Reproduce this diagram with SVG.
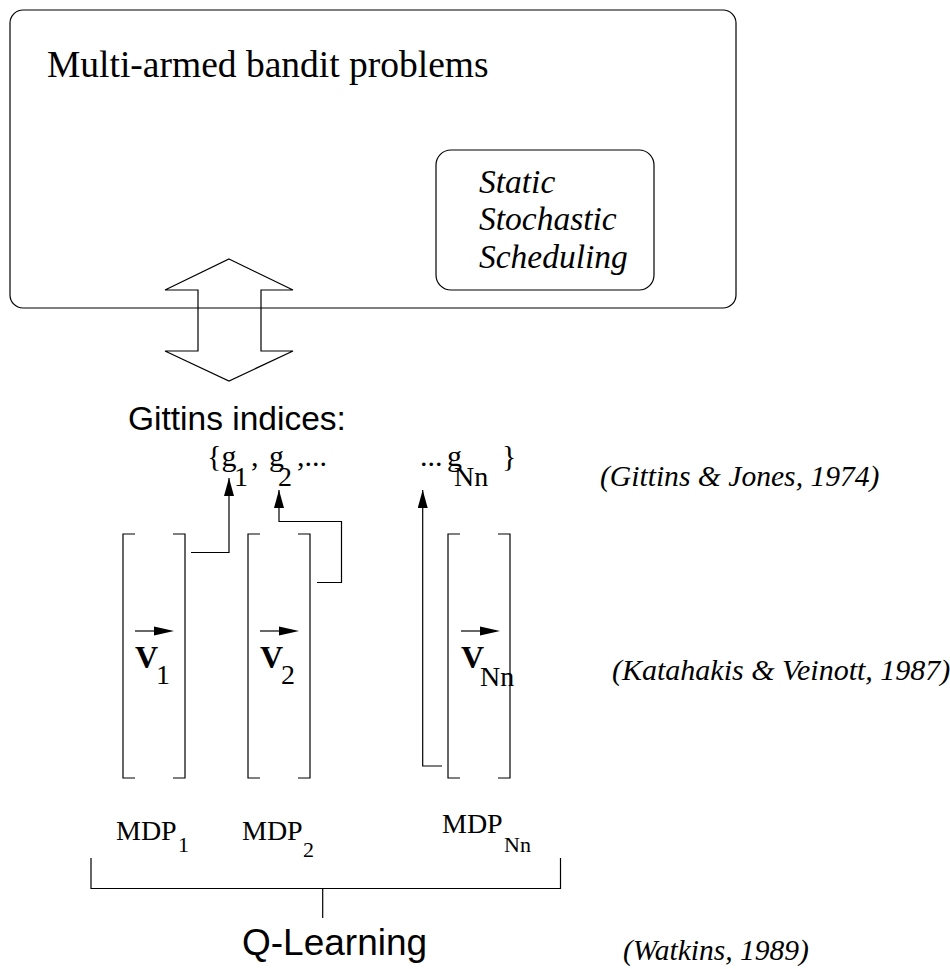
<svg xmlns="http://www.w3.org/2000/svg" width="950" height="969" viewBox="0 0 950 969">
<defs>
<style>
.ln{fill:none;stroke:#000;stroke-width:1.2}
.tr{font-family:"Liberation Serif","Times New Roman",serif;fill:#000}
.it{font-family:"Liberation Serif","Times New Roman",serif;font-style:italic;fill:#000}
.sf{font-family:"Liberation Sans",Arial,sans-serif;fill:#000}
.vb{font-family:"Liberation Serif","Times New Roman",serif;font-weight:bold;font-size:32px;fill:#000}
</style>
<marker id="ah" markerWidth="18" markerHeight="10" refX="18" refY="5" orient="auto" markerUnits="userSpaceOnUse">
<path d="M0,0 L18,5 L0,10 Z" fill="#000"/>
</marker>
</defs>
<rect width="950" height="969" fill="#fff"/>

<g id="bandit">
<rect class="ln" x="10" y="10" width="726" height="298" rx="13" ry="13"/>
<text class="tr" x="47" y="77" font-size="37.5">Multi-armed bandit problems</text>
</g>

<g id="scheduling">
<rect class="ln" x="436" y="150" width="218" height="140" rx="15" ry="15"/>
<text class="it" x="479" y="193" font-size="33.5">Static</text>
<text class="it" x="479" y="230" font-size="33.5">Stochastic</text>
<text class="it" x="479" y="268" font-size="33.5">Scheduling</text>
</g>

<g id="double-arrow">
<polygon class="ln" points="229,259 293,290 261,290 261,351 293,351 229,381 165,351 198,351 198,290 165,290"/>
</g>

<g id="gittins">
<text class="sf" x="128" y="430" font-size="33.5">Gittins indices:</text>
<text class="tr" x="207" y="466" font-size="30">{g</text>
<text class="tr" x="234" y="486" font-size="28">1</text>
<text class="tr" x="251" y="466" font-size="30">,</text>
<text class="tr" x="269" y="466" font-size="30">g</text>
<text class="tr" x="278" y="486" font-size="28">2</text>
<text class="tr" x="297" y="466" font-size="30">,...</text>
<text class="tr" x="420" y="466" font-size="30">...</text>
<text class="tr" x="447" y="466" font-size="30">g</text>
<text class="tr" x="454" y="486" font-size="28">Nn</text>
<text class="tr" x="502" y="466" font-size="30">}</text>
</g>

<g id="vector1">
<path class="ln" d="M135,534 H123 V778 H135 M173,534 H185 V778 H173"/>
<path class="ln" d="M135,631 H160"/>
<path d="M154,626.5 L174,631 L154,635.5 Z" fill="#000"/>
<text class="vb" x="135" y="668">V</text>
<text class="tr" x="156" y="684" font-size="28">1</text>
</g>

<g id="vector2">
<path class="ln" d="M260,534 H248 V778 H260 M298,534 H310 V778 H298"/>
<path class="ln" d="M260,631 H285"/>
<path d="M279,626.5 L299,631 L279,635.5 Z" fill="#000"/>
<text class="vb" x="260" y="668">V</text>
<text class="tr" x="281" y="684" font-size="28">2</text>
</g>

<g id="vectorNn">
<path class="ln" d="M460,534 H448 V778 H460 M498,534 H510 V778 H498"/>
<path class="ln" d="M461,631 H486"/>
<path d="M480,626.5 L500,631 L480,635.5 Z" fill="#000"/>
<text class="vb" x="461" y="668">V</text>
<text class="tr" x="480" y="686" font-size="28">Nn</text>
</g>

<g id="mdp1">
<text class="tr" x="116" y="840" font-size="28">MDP</text>
<text class="tr" x="178" y="852" font-size="22">1</text>
</g>
<g id="mdp2">
<text class="tr" x="242" y="840" font-size="28">MDP</text>
<text class="tr" x="303" y="857" font-size="22">2</text>
</g>
<g id="mdpNn">
<text class="tr" x="442" y="833" font-size="28">MDP</text>
<text class="tr" x="504" y="852" font-size="22">Nn</text>
</g>

<g id="qlearning">
<text class="sf" x="242" y="955" font-size="37">Q-Learning</text>
</g>

<g id="citations">
<text class="it" x="600" y="486" font-size="29.6">(Gittins &amp; Jones, 1974)</text>
<text class="it" x="612" y="680" font-size="30">(Katahakis &amp; Veinott, 1987)</text>
<text class="it" x="623" y="960" font-size="29.5">(Watkins, 1989)</text>
</g>

<g id="connectors">
<path class="ln" d="M191,552.5 H229 V478" marker-end="url(#ah)"/>
<path class="ln" d="M317,582.5 H341.5 V521.5 H279 V490" marker-end="url(#ah)"/>
<path class="ln" d="M442,766 H422.7 V490" marker-end="url(#ah)"/>
<path class="ln" d="M91,858 V888.5 H560.5 V858 M322.7,888.5 V918"/>
</g>
</svg>
